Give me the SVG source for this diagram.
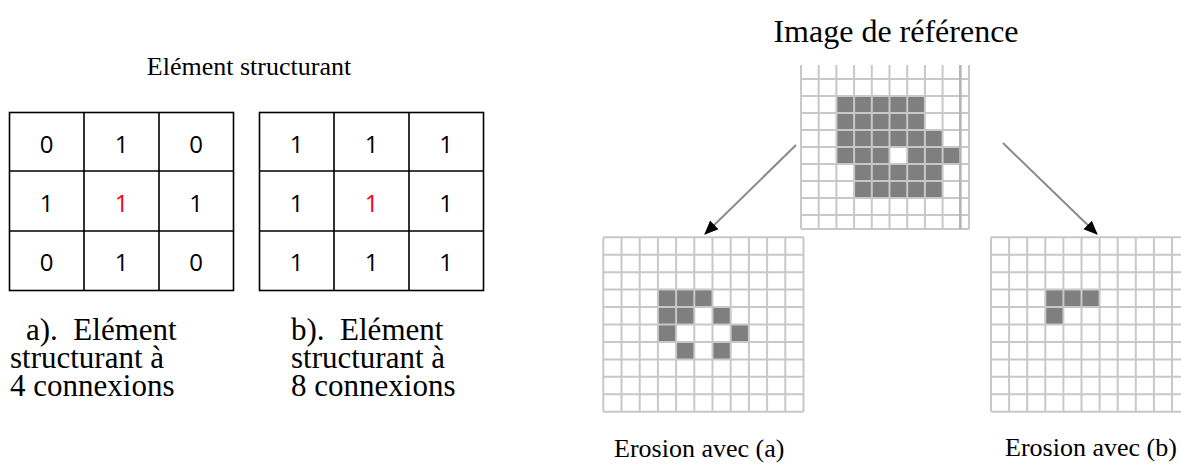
<svg xmlns="http://www.w3.org/2000/svg" width="1181" height="464" viewBox="0 0 1181 464">
  <style>
    .serif { font-family: "Liberation Serif", "Times New Roman", serif; fill: #000; }
    .title { font-size: 26px; }
    .head2 { font-size: 32px; }
    .cap { font-size: 31px; white-space: pre; }
    .lbl { font-size: 26px; }
    .num { font-family: "Open Sans", "Liberation Sans", sans-serif; font-size: 24px; text-anchor: middle; fill: #000; }
    .red { fill: #ff0000; }
    .tbl { fill: none; stroke: #000; stroke-width: 1.6; }
    .bg { fill: #fff; }
    .on { fill: #7f7f7f; }
    .gl { fill: none; stroke: #c8c8c8; stroke-width: 2; }
    .arrow { fill: none; stroke: #8a8a8a; stroke-width: 2; }
  </style>
  <defs>
    <marker id="head" markerUnits="userSpaceOnUse" markerWidth="16" markerHeight="14" refX="13" refY="7" orient="auto">
      <path d="M0,1 L14,7 L0,13 Z" fill="#000"/>
    </marker>
    <filter id="soft" x="-5%" y="-5%" width="110%" height="110%">
      <feGaussianBlur stdDeviation="0.45"/>
    </filter>
  </defs>
  <rect width="1181" height="464" fill="#fff"/>

  <!-- heading over the two structuring elements -->
  <text class="serif title" x="249" y="75" text-anchor="middle">Elément structurant</text>

  <!-- structuring element a : 4-connected cross -->
  <g id="se-a">
    <rect class="tbl" x="9.5" y="112.5" width="224" height="178"/>
    <path class="tbl" d="M84,112.5 V290.5 M159,112.5 V290.5 M9.5,171 H233.5 M9.5,231 H233.5"/>
    <text class="num" x="46.7" y="153">0</text>
    <text class="num" x="121.5" y="153">1</text>
    <text class="num" x="196.2" y="153">0</text>
    <text class="num" x="46.7" y="212">1</text>
    <text class="num red" x="121.5" y="212">1</text>
    <text class="num" x="196.2" y="212">1</text>
    <text class="num" x="46.7" y="271">0</text>
    <text class="num" x="121.5" y="271">1</text>
    <text class="num" x="196.2" y="271">0</text>
  </g>

  <!-- structuring element b : 8-connected square -->
  <g id="se-b">
    <rect class="tbl" x="259.5" y="112.5" width="224" height="178"/>
    <path class="tbl" d="M334,112.5 V290.5 M409,112.5 V290.5 M259.5,171 H483.5 M259.5,231 H483.5"/>
    <text class="num" x="296.7" y="153">1</text>
    <text class="num" x="371.5" y="153">1</text>
    <text class="num" x="446.2" y="153">1</text>
    <text class="num" x="296.7" y="212">1</text>
    <text class="num red" x="371.5" y="212">1</text>
    <text class="num" x="446.2" y="212">1</text>
    <text class="num" x="296.7" y="271">1</text>
    <text class="num" x="371.5" y="271">1</text>
    <text class="num" x="446.2" y="271">1</text>
  </g>

  <!-- captions, one wrapped paragraph each -->
  <g id="caption-a">
    <text class="serif cap"><tspan x="26" y="340">a).  Elément</tspan><tspan x="10" y="368">structurant à</tspan><tspan x="10" y="396">4 connexions</tspan></text>
  </g>
  <g id="caption-b">
    <text class="serif cap"><tspan x="291" y="340">b).  Elément</tspan><tspan x="291" y="368">structurant à</tspan><tspan x="291" y="396">8 connexions</tspan></text>
  </g>

  <!-- source binary image -->
  <g id="reference-image">
    <text class="serif head2" x="896" y="42" text-anchor="middle">Image de référence</text>
    <g filter="url(#soft)">
      <rect class="bg" x="801" y="65" width="168" height="164"/>
      <g class="on">
        <!-- row 2 -->
        <rect x="836.4" y="96" width="88.5" height="17"/>
        <!-- row 3 -->
        <rect x="836.4" y="113" width="88.5" height="17"/>
        <!-- row 4 -->
        <rect x="836.4" y="130" width="106.2" height="17"/>
        <!-- row 5, with the hole -->
        <rect x="836.4" y="147" width="53.1" height="17"/>
        <rect x="907.2" y="147" width="53.1" height="17"/>
        <!-- rows 6-7 -->
        <rect x="854.1" y="164" width="88.5" height="34"/>
      </g>
      <path class="gl" d="M801,65 V229 M818.7,65 V229 M836.4,65 V229 M854.1,65 V229 M871.8,65 V229 M889.5,65 V229 M907.2,65 V229 M924.9,65 V229 M942.6,65 V229 M960.3,65 V229 M969,65 V229
        M801,79 H969 M801,96 H969 M801,113 H969 M801,130 H969 M801,147 H969 M801,164 H969 M801,181 H969 M801,198 H969 M801,215 H969 M801,229 H969"/>
      <path d="M960.3,65 V229" stroke="#b4b4b4" stroke-width="2.5"/>
    </g>
  </g>

  <!-- erosion by the cross -->
  <g id="erosion-a">
    <g filter="url(#soft)">
      <rect class="bg" x="603.3" y="237.3" width="200.2" height="174.4"/>
      <g class="on">
        <rect x="657.9" y="289.6" width="54.6" height="17.4"/>
        <rect x="657.9" y="307" width="36.4" height="17.5"/>
        <rect x="712.5" y="307" width="18.2" height="17.5"/>
        <rect x="657.9" y="324.5" width="18.2" height="17.4"/>
        <rect x="730.7" y="324.5" width="18.2" height="17.4"/>
        <rect x="676.1" y="341.9" width="18.2" height="17.5"/>
        <rect x="712.5" y="341.9" width="18.2" height="17.5"/>
      </g>
      <path class="gl" d="M603.3,237.3 V411.7 M621.5,237.3 V411.7 M639.7,237.3 V411.7 M657.9,237.3 V411.7 M676.1,237.3 V411.7 M694.3,237.3 V411.7 M712.5,237.3 V411.7 M730.7,237.3 V411.7 M748.9,237.3 V411.7 M767.1,237.3 V411.7 M785.3,237.3 V411.7 M803.5,237.3 V411.7
        M603.3,237.3 H803.5 M603.3,254.7 H803.5 M603.3,272.2 H803.5 M603.3,289.6 H803.5 M603.3,307 H803.5 M603.3,324.5 H803.5 M603.3,341.9 H803.5 M603.3,359.4 H803.5 M603.3,376.8 H803.5 M603.3,394.2 H803.5 M603.3,411.7 H803.5"/>
    </g>
    <text class="serif lbl" x="614" y="457">Erosion avec (a)</text>
  </g>

  <!-- erosion by the square -->
  <g id="erosion-b">
    <g filter="url(#soft)">
      <rect class="bg" x="991" y="237.3" width="190" height="174.4"/>
      <g class="on">
        <rect x="1045.3" y="289.6" width="54.3" height="17.4"/>
        <rect x="1045.3" y="307" width="18.1" height="17.5"/>
      </g>
      <path class="gl" d="M991,237.3 V411.7 M1009.1,237.3 V411.7 M1027.2,237.3 V411.7 M1045.3,237.3 V411.7 M1063.4,237.3 V411.7 M1081.5,237.3 V411.7 M1099.6,237.3 V411.7 M1117.7,237.3 V411.7 M1135.8,237.3 V411.7 M1153.9,237.3 V411.7 M1172,237.3 V411.7
        M991,237.3 H1181 M991,254.7 H1181 M991,272.2 H1181 M991,289.6 H1181 M991,307 H1181 M991,324.5 H1181 M991,341.9 H1181 M991,359.4 H1181 M991,376.8 H1181 M991,394.2 H1181 M991,411.7 H1181"/>
    </g>
    <text class="serif lbl" x="1005" y="456">Erosion avec (b)</text>
  </g>

  <!-- connectors -->
  <g id="connectors">
    <path class="arrow" d="M796,145 L705,234" marker-end="url(#head)"/>
    <path class="arrow" d="M1003,143 L1097,234" marker-end="url(#head)"/>
  </g>
</svg>
